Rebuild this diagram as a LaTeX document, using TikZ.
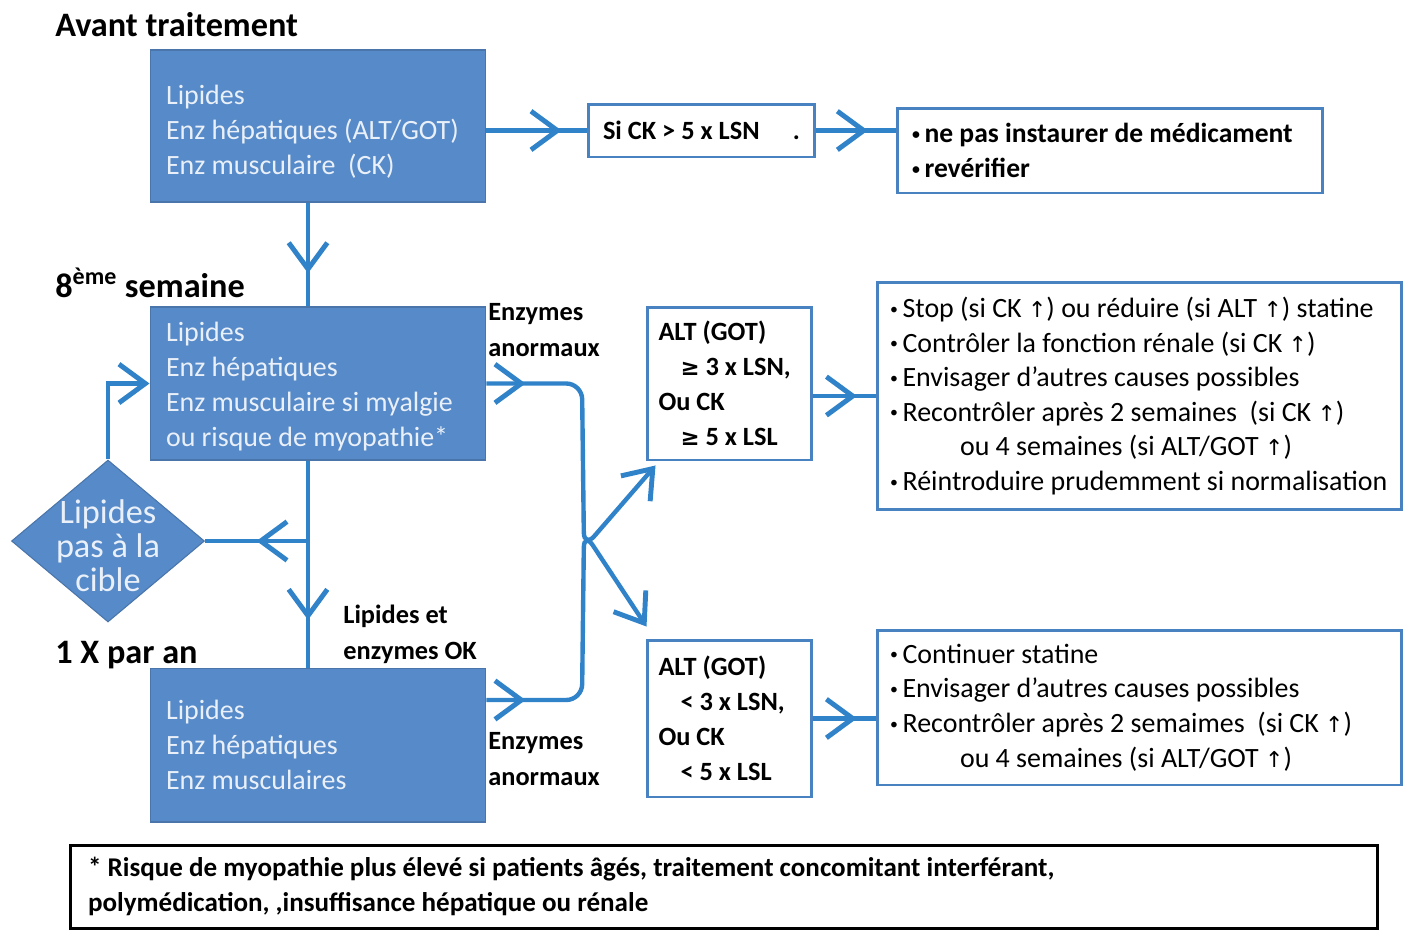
\documentclass[tikz,border=0pt]{standalone}
\usepackage{fontspec}
\setmainfont{Carlito}
\newfontfamily\dejavu{DejaVu Sans}
\usepackage{tikz}
\usetikzlibrary{positioning,calc,arrows.meta,shapes.geometric,decorations.markings}

\definecolor{boxblue}{RGB}{86,138,200}
\definecolor{lineblue}{RGB}{48,130,201}
\definecolor{edgeblue}{RGB}{72,130,192}
\definecolor{boxtext}{RGB}{234,240,249}

\newcommand{\uparr}{{\dejavu\fontsize{12.5}{12.5}\selectfont ↑}}
\newcommand{\geqsign}{{\dejavu\fontsize{13}{13}\selectfont ≥}}
\newcommand{\bul}{\raisebox{0.12em}{\fontsize{9}{9}\selectfont •}\,}

\begin{document}
\begin{tikzpicture}[x=0.02cm,y=-0.02cm,
    blue box/.style={draw=boxblue!85!black,line width=0.6pt,fill=boxblue,text=boxtext,align=flush left,
      minimum width=6.72cm,minimum height=3.06cm,text width=6.08cm,inner xsep=0.32cm,inner ysep=0pt,
      font=\fontsize{15.9}{19.9}\selectfont},
    white box/.style={draw=edgeblue,line width=1.7pt,fill=white,align=flush left,inner ysep=0pt,
      font=\fontsize{15.9}{19.7}\selectfont},
    head/.style={anchor=west,inner sep=0pt,font=\bfseries\fontsize{19.5}{22}\selectfont},
    side label/.style={anchor=west,inner sep=0pt,align=flush left,font=\bfseries\fontsize{15}{20.4}\selectfont},
    flow/.style={draw=lineblue,line width=2.5pt},
    tip at/.style={postaction={decorate},decoration={markings,
      mark=at position #1 with {\arrow[lineblue,line width=2.8pt]{Straight Barb[length=15pt,width=22pt]}}}},
    end tip/.style={-{Straight Barb[length=15pt,width=22pt,line width=2.8pt]}}]

    \useasboundingbox (0,0) rectangle (1404,931);

    % avant traitement
    \node[head] (1) at (55,25) {Avant traitement};
    \node[blue box,minimum height=3.04cm] (2) at (318,126) {\rule{0pt}{0.6cm}Lipides\\Enz hépatiques (ALT/GOT)\\Enz musculaire\ \ (CK)};
    \node[white box,minimum width=4.54cm,minimum height=1.06cm,text width=3.94cm,inner xsep=0.3cm,
      font=\bfseries\fontsize{15}{19.7}\selectfont] (3) at (701.5,130.5) {Si CK > 5 x LSN\hfill.};
    \node[white box,minimum width=8.52cm,minimum height=1.7cm,text width=7.92cm,inner xsep=0.3cm,
      font=\bfseries\fontsize{15.7}{19.9}\selectfont] (4) at (1110,150.5) {\bul ne pas instaurer de médicament\\\bul revérifier};

    % 8eme semaine
    \node[head] (5) at (55,283) {8\textsuperscript{ème} semaine};
    \node[blue box] (6) at (318,383.5) {\rule{0pt}{0.5cm}Lipides\\Enz hépatiques\\Enz musculaire si myalgie\\ou risque de myopathie*};
    \node[side label] (7) at (488,330) {Enzymes\\anormaux};
    \node[diamond,fill=boxblue,draw=boxblue!85!black,line width=0.6pt,minimum width=3.86cm,minimum height=3.24cm,inner sep=0pt] (8) at (108,541) {};
    \node[text=boxtext,align=center,inner sep=0pt,font=\fontsize{19.5}{19.3}\selectfont] (9) at ([yshift=-0.1cm]8) {Lipides\\pas à la\\cible};

    % 1 X par an
    \node[head] (10) at (55,655) {1 X par an};
    \node[blue box,minimum height=3.08cm] (11) at (318,745) {Lipides\\Enz hépatiques\\Enz musculaires};
    \node[side label] (12) at (343,634) {Lipides et\\enzymes OK};
    \node[side label] (13) at (488,759) {Enzymes\\anormaux};

    % seuils
    \node[white box,minimum width=3.3cm,minimum height=3.06cm,text width=2.96cm,inner xsep=0.17cm,
      font=\bfseries\fontsize{15}{19.9}\selectfont] (14) at (729.5,383.5)
      {\hspace{0.06cm}ALT (GOT)\\\hspace{0.5cm}\geqsign\ 3 x LSN,\\\hspace{0.06cm}Ou CK\\\hspace{0.5cm}\geqsign\ 5 x LSL};
    \node[white box,minimum width=3.3cm,minimum height=3.14cm,text width=2.96cm,inner xsep=0.17cm,
      font=\bfseries\fontsize{15}{19.9}\selectfont] (15) at (729.5,718.5)
      {\hspace{0.06cm}ALT (GOT)\\\hspace{0.5cm}< 3 x LSN,\\\hspace{0.06cm}Ou CK\\\hspace{0.5cm}< 5 x LSL};

    % conduite a tenir
    \node[white box,minimum width=10.5cm,minimum height=4.56cm,text width=10.14cm,inner xsep=0.18cm] (16) at (1139.5,396)
      {\hspace{0.08cm}\bul Stop (si CK \uparr) ou réduire (si ALT \uparr) statine\\
       \hspace{0.08cm}\bul Contrôler la fonction rénale (si CK \uparr)\\
       \hspace{0.08cm}\bul Envisager d’autres causes possibles\\
       \hspace{0.08cm}\bul Recontrôler après 2 semaines\ \ (si CK \uparr)\\
       \hspace{1.48cm}ou 4 semaines (si ALT/GOT \uparr)\\
       \hspace{0.08cm}\bul Réintroduire prudemment si normalisation};
    \node[white box,minimum width=10.5cm,minimum height=3.1cm,text width=10.14cm,inner xsep=0.18cm] (17) at (1139.5,707.5)
      {\hspace{0.08cm}\bul Continuer statine\\
       \hspace{0.08cm}\bul Envisager d’autres causes possibles\\
       \hspace{0.08cm}\bul Recontrôler après 2 semaimes\ \ (si CK \uparr)\\
       \hspace{1.48cm}ou 4 semaines (si ALT/GOT \uparr)};

    % note
    \node[draw=black,line width=1.7pt,fill=white,align=flush left,minimum width=26.16cm,minimum height=1.66cm,
      text width=25.44cm,inner xsep=0.36cm,inner ysep=0pt,font=\bfseries\fontsize{15.4}{19.8}\selectfont] (18) at (724,886.5)
      {* Risque de myopathie plus élevé si patients âgés, traitement concomitant interférant,\\
       polymédication, ,insuffisance hépatique ou rénale};

    \coordinate (19) at (308,541);

    \draw[flow,tip at=0.75] (2.east |- 3) -- (3.west);
    \draw[flow,tip at=0.65] (3.east) -- (4.west |- 3.east);
    \draw[flow,tip at=0.68] ([xshift=-0.2cm]2.south) -- ([xshift=-0.2cm]6.north);
    \draw[flow,tip at=0.77] ([xshift=-0.2cm]6.south) -- ([xshift=-0.2cm]11.north);
    \draw[flow,tip at=0.5] (19) -- (8.east);
    \draw[flow,end tip] (8.north) |- (6.west);
    \draw[flow,tip at=0.78cm,end tip,rounded corners=9pt] (6.east) -- (582,383.5) -- (584,548) -- ($(14.south west)+(10,4)$);
    \draw[flow,tip at=0.78cm,end tip,rounded corners=9pt] (11.east |- 0,700) -- (582,700) -- (584,532) -- ($(15.north west)+(1,-12)$);
    \draw[flow,tip at=0.7] (14.east |- 16.west) -- (16.west);
    \draw[flow,tip at=0.7] (15.east) -- (17.west |- 15.east);

\end{tikzpicture}
\end{document}
